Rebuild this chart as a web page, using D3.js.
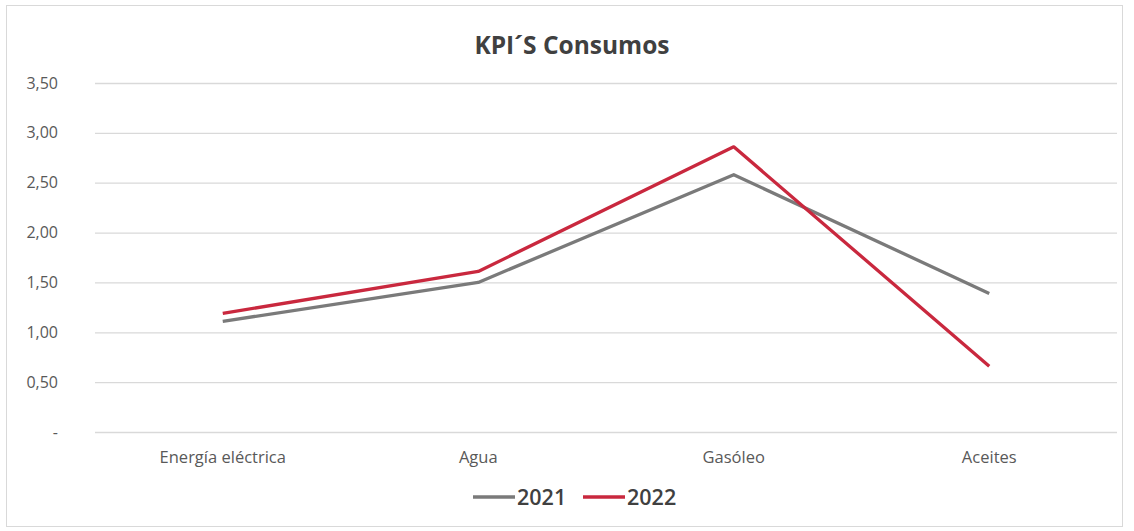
<!DOCTYPE html>
<html><head><meta charset="utf-8">
<script src="https://cdn.jsdelivr.net/npm/d3@7"></script>
<style>
html,body{margin:0;padding:0;background:#fff;}
svg{display:block;font-family:"Open Sans",sans-serif;}
</style></head>
<body><svg id="c" width="1134" height="531"></svg>
<script>
const categories = ["Energía eléctrica","Agua","Gasóleo","Aceites"];
const values2021 = [1.11,1.50,2.58,1.39];
const values2022 = [1.19,1.61,2.86,0.66];
const yTicks = [0,0.5,1,1.5,2,2.5,3,3.5];
const seriesNames = ["2021","2022"];
const seriesColors = ["#7a7a7a","#c9283e"];

const svg = d3.select("#c");
svg.append("rect").attr("x",6.5).attr("y",5.5).attr("width",1116).attr("height",521)
  .attr("fill","#fff").attr("stroke","#d9d9d9");

const x = d3.scaleBand().domain(categories).range([95,1117]);
const y = d3.scaleLinear().domain([0,3.5]).range([432,83]);

const fmt = v => v===0 ? "-" : d3.format(".2f")(v).replace(".",",");
const yAxis = svg.append("g").attr("transform","translate(95,0)")
  .call(d3.axisLeft(y).tickValues(yTicks).tickSize(-1022).tickFormat(fmt).tickPadding(37))
  .attr("font-family","'Open Sans',sans-serif");
yAxis.select(".domain").remove();
yAxis.selectAll(".tick line").attr("stroke","#d9d9d9").attr("stroke-width",1.3);
yAxis.selectAll(".tick text").attr("fill","#595959").attr("font-size",16).attr("x",-37);

const xAxis = svg.append("g").attr("transform","translate(0,432)")
  .call(d3.axisBottom(x).tickSize(0).tickPadding(19))
  .attr("font-family","'Open Sans',sans-serif");
xAxis.select(".domain").remove();
xAxis.selectAll(".tick text").attr("fill","#595959").attr("font-size",16.5);

const line = d3.line().x((d,i)=>x(categories[i])+x.bandwidth()/2).y(d=>y(d));
[values2021, values2022].forEach((vals,k)=>{
  svg.append("path").datum(vals).attr("d",line).attr("fill","none")
    .attr("stroke",seriesColors[k]).attr("stroke-width",3.3).attr("stroke-linejoin","round");
});

svg.append("text").attr("x",572).attr("y",54).attr("text-anchor","middle")
  .attr("font-size",24.5).attr("font-weight","bold").attr("fill","#404040").text("KPI´S Consumos");

const legX = [473,583];
seriesNames.forEach((n,k)=>{
  const g = svg.append("g").attr("transform",`translate(${legX[k]},497)`);
  g.append("line").attr("x1",0).attr("x2",42).attr("y1",0).attr("y2",0)
    .attr("stroke",seriesColors[k]).attr("stroke-width",3.3);
  g.append("text").attr("x",44).attr("y",7.5).attr("font-size",21.5).attr("font-weight","600")
    .attr("fill","#404040").text(n);
});
</script></body></html>
